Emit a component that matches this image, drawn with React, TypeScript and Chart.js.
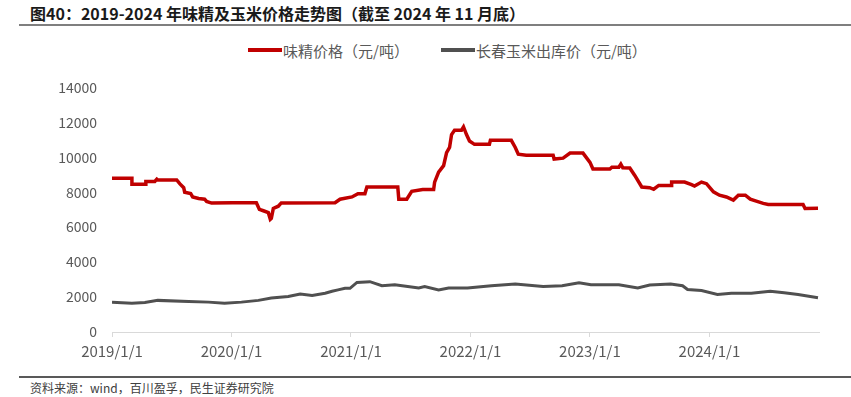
import React, { useEffect, useRef } from "react";
import { Chart, registerables } from "chart.js";

Chart.register(...registerables);

// x values are months since 2019/1/1
const msgMonths = [
  0.0, 2.0, 2.0, 3.4, 3.4, 4.3, 4.5, 4.6, 6.5, 6.8, 7.2, 7.3, 7.9, 8.1, 8.7, 9.3, 9.5, 10.0, 12.1, 14.5,
  14.8, 15.2, 15.7, 15.9, 16.0, 16.2, 16.7, 17.0, 22.4, 22.9, 24.1, 24.7, 25.4, 25.6, 28.7, 28.8, 29.6, 30.1,
  31.2, 32.3, 32.4, 32.8, 33.3, 33.6, 33.9, 34.1, 34.4, 35.1, 35.3, 35.6, 35.9, 36.4, 37.9, 38.0, 40.1, 40.5,
  40.8, 41.6, 44.3, 44.4, 45.3, 46.0, 47.3, 48.0, 48.3, 50.0, 50.2, 50.9, 51.1, 51.3, 52.0, 52.5, 53.2, 54.0,
  54.4, 54.9, 56.2, 56.2, 57.5, 58.2, 58.5, 59.2, 59.7, 60.4, 61.0, 61.7, 62.4, 62.9, 63.6, 64.1, 64.7, 65.4,
  65.9, 69.4, 69.6, 70.9,
];
const msgPrices = [
  8800, 8800, 8450, 8450, 8620, 8620, 8750, 8700, 8700, 8490, 8260, 8000, 7920, 7730, 7640, 7600, 7470, 7380, 7400, 7400,
  7020, 6940, 6830, 6450, 6500, 7070, 7200, 7390, 7400, 7600, 7730, 7920, 7920, 8300, 8300, 7600, 7600, 8050,
  8150, 8150, 8580, 9150, 9520, 10270, 10560, 11300, 11550, 11550, 11740, 11300, 10930, 10740, 10740, 10970, 10970, 10560,
  10180, 10120, 10120, 9900, 9950, 10240, 10240, 9710, 9330, 9330, 9430, 9430, 9610, 9400, 9390, 8960, 8300, 8260,
  8170, 8390, 8390, 8580, 8580, 8430, 8350, 8580, 8490, 8020, 7830, 7730, 7550, 7830, 7830, 7600, 7490, 7360,
  7300, 7300, 7070, 7080,
];

const cornMonths = [
  0, 2.0, 3.3, 4.6, 7.7, 9.7, 11.3, 13.0, 14.7, 16.0, 17.7, 18.9, 20.1, 21.4, 22.1, 22.7, 23.4, 23.9, 24.6, 25.9,
  27.1, 28.4, 29.7, 30.8, 31.4, 32.8, 33.8, 35.7, 38.1, 40.5, 43.3, 45.2, 46.9, 48.1, 50.9, 52.8, 54.0, 56.1,
  57.3, 57.8, 59.2, 60.8, 62.2, 64.2, 66.1, 67.5, 68.9, 70.9,
];
const cornPrices = [
  1710, 1640, 1690, 1810, 1750, 1710, 1650, 1710, 1810, 1940, 2030, 2180, 2090, 2220, 2330, 2410, 2500, 2500, 2840, 2880,
  2650, 2710, 2610, 2520, 2600, 2410, 2520, 2520, 2650, 2750, 2600, 2650, 2820, 2710, 2710, 2520, 2690, 2750,
  2650, 2430, 2370, 2150, 2220, 2220, 2330, 2240, 2150, 1960,
];

const xTickMonths = [0, 12, 24, 36, 48, 60];
const xTickLabels = ["2019/1/1", "2020/1/1", "2021/1/1", "2022/1/1", "2023/1/1", "2024/1/1"];
const yMin = 0;
const yMax = 14000;
const yStep = 2000;

const seriesNames = ["味精价格（元/吨）", "长春玉米出库价（元/吨）"];
const RED = "#C00000";
const GREY = "#505050";
const TEXT = "#595959";
const FONT = "'Noto Sans CJK SC', 'Noto Sans', sans-serif";

export default function App() {
  const ref = useRef<HTMLCanvasElement | null>(null);

  useEffect(() => {
    if (!ref.current) return;
    const chart = new Chart(ref.current, {
      type: "line",
      data: {
        datasets: [
          {
            label: seriesNames[0],
            data: msgMonths.map((m, i) => ({ x: m, y: msgPrices[i] })),
            borderColor: RED,
            backgroundColor: RED,
            borderWidth: 3.5,
            pointRadius: 0,
            tension: 0,
          },
          {
            label: seriesNames[1],
            data: cornMonths.map((m, i) => ({ x: m, y: cornPrices[i] })),
            borderColor: GREY,
            backgroundColor: GREY,
            borderWidth: 3,
            pointRadius: 0,
            tension: 0,
          },
        ],
      },
      options: {
        responsive: false,
        animation: false,
        layout: { padding: { top: 20, right: 32, left: 0, bottom: 0 } },
        plugins: { legend: { display: false }, tooltip: { enabled: false } },
        scales: {
          x: {
            type: "linear",
            min: 0,
            max: 71,
            afterBuildTicks: (scale: any) => {
              scale.ticks = xTickMonths.map((v) => ({ value: v }));
            },
            afterFit: (scale: any) => {
              scale.height = 36;
            },
            ticks: {
              autoSkip: false,
              maxRotation: 0,
              padding: 5,
              color: TEXT,
              font: { family: FONT, size: 15 },
              callback: (v: any) => {
                const i = xTickMonths.indexOf(Number(v));
                return i >= 0 ? xTickLabels[i] : "";
              },
            },
            grid: { drawOnChartArea: false, drawTicks: true, tickLength: 5, color: "#d9d9d9" },
            border: { display: true, color: "#d9d9d9", width: 1 },
          },
          y: {
            min: yMin,
            max: yMax,
            afterFit: (scale: any) => {
              scale.width = 112;
            },
            ticks: {
              stepSize: yStep,
              padding: 15,
              color: TEXT,
              font: { family: FONT, size: 14 },
              callback: (v: any) => String(v),
            },
            grid: { display: false, drawTicks: false },
            border: { display: false },
          },
        },
      },
    });
    return () => chart.destroy();
  }, []);

  return (
    <div
      style={{
        position: "absolute",
        left: 0,
        top: 0,
        width: 851,
        height: 397,
        background: "#fff",
        fontFamily: FONT,
        overflow: "hidden",
      }}
    >
      <div
        style={{
          position: "absolute",
          left: 30,
          top: 3,
          fontSize: 16,
          fontWeight: "bold",
          color: "#1a1a1a",
          whiteSpace: "nowrap",
          lineHeight: "20px",
        }}
      >
        图40：2019-2024 年味精及玉米价格走势图（截至 2024 年 11 月底）
      </div>
      <div style={{ position: "absolute", left: 19, top: 24, width: 832, height: 2, background: "#7f7f7f" }} />
      <div
        style={{
          position: "absolute",
          top: 40,
          left: 248,
          height: 20,
          display: "flex",
          alignItems: "center",
          fontSize: 15,
          color: TEXT,
          whiteSpace: "nowrap",
        }}
      >
        <span style={{ display: "inline-block", width: 34, height: 4, background: RED, marginRight: 1 }} />
        <span>{seriesNames[0]}</span>
        <span style={{ display: "inline-block", width: 34, height: 4, background: GREY, marginLeft: 32, marginRight: 1 }} />
        <span>{seriesNames[1]}</span>
      </div>
      <canvas
        ref={ref}
        width={851}
        height={304}
        style={{ position: "absolute", left: 0, top: 64, width: 851, height: 304 }}
      />
      <div style={{ position: "absolute", left: 19, top: 376, width: 832, height: 2, background: "#595959" }} />
      <div
        style={{
          position: "absolute",
          left: 30,
          top: 380,
          fontSize: 12,
          color: "#404040",
          whiteSpace: "nowrap",
          lineHeight: "16px",
        }}
      >
        资料来源：wind，百川盈孚，民生证券研究院
      </div>
    </div>
  );
}
